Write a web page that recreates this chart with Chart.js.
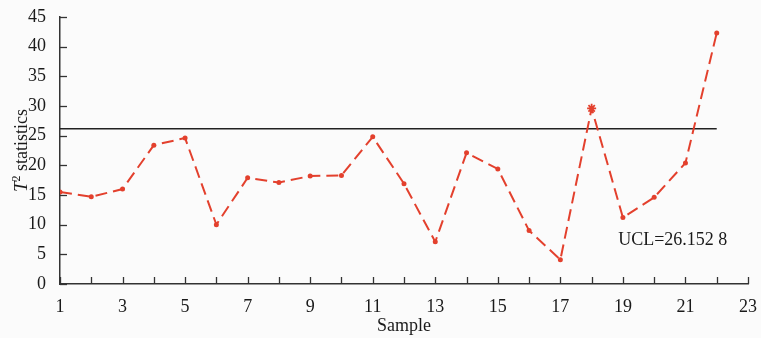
<!DOCTYPE html>
<html>
<head>
<meta charset="utf-8">
<script src="https://cdn.jsdelivr.net/npm/chart.js@4"></script>
<style>
  html, body { margin: 0; padding: 0; background: #fbfbfb; }
  #wrap { width: 761px; height: 338px; }
</style>
</head>
<body>
<div id="wrap"><canvas id="t2-chart"></canvas></div>
<script>
// ====
// Data
// ====
const samples = [1, 2, 3, 4, 5, 6, 7, 8, 9, 10, 11, 12, 13, 14, 15, 16, 17, 18, 19, 20, 21, 22];
const t2Values = [15.5, 14.7, 16.0, 23.4, 24.6, 10.0, 17.9, 17.1, 18.2, 18.3, 24.8,
                  16.9, 7.1, 22.1, 19.4, 9.0, 4.1, 29.6, 11.2, 14.6, 20.4, 42.3];
const uclValue = 26.1528;
const uclLabel = 'UCL=26.152 8';
const yTicks = [0, 5, 10, 15, 20, 25, 30, 35, 40, 45];

const serif = '"Liberation Serif", "DejaVu Serif", serif';
const textColor = '#1a1a1a';
const lineRed = '#e3402d';

//  Inward tick marks, axis title and UCL note
//  ------------------------------------------
const decorPlugin = {
  id: 'decor',
  beforeDraw(chart) {
    const ctx = chart.ctx;
    ctx.save();
    ctx.fillStyle = '#fbfbfb';
    ctx.fillRect(0, 0, chart.width, chart.height);
    ctx.restore();
  },
  afterDraw(chart) {
    const ctx = chart.ctx;
    const x = chart.scales.x;
    const y = chart.scales.y;
    ctx.save();
    ctx.strokeStyle = '#333';
    ctx.lineWidth = 1.3;

    // x ticks point up into the plot
    x.ticks.forEach((t) => {
      const px = Math.round(x.getPixelForValue(t.value)) + 0.5;
      ctx.beginPath();
      ctx.moveTo(px, y.bottom);
      ctx.lineTo(px, y.bottom - 7);
      ctx.stroke();
    });
    // y ticks point right into the plot
    y.ticks.forEach((t) => {
      const py = Math.round(y.getPixelForValue(t.value)) + 0.5;
      ctx.beginPath();
      ctx.moveTo(x.left, py);
      ctx.lineTo(x.left + 7, py);
      ctx.stroke();
    });

    // y axis title: italic T, superscript 2
    ctx.fillStyle = textColor;
    ctx.translate(22, (y.top + y.bottom) / 2);
    ctx.rotate(-Math.PI / 2);
    ctx.textBaseline = 'middle';
    const part1 = 'italic 19px ' + serif;
    const part2 = '12px ' + serif;
    const part3 = '18px ' + serif;
    ctx.font = part1;
    const w1 = ctx.measureText('T').width;
    ctx.font = part2;
    const w2 = ctx.measureText('2').width;
    ctx.font = part3;
    const w3 = ctx.measureText(' statistics').width;
    let sx = -(w1 + w2 + w3) / 2;
    ctx.font = part1;
    ctx.fillText('T', sx, 0);
    sx += w1;
    ctx.font = part2;
    ctx.fillText('2', sx, -5);
    sx += w2;
    ctx.font = part3;
    ctx.fillText(' statistics', sx, 0);
    ctx.restore();

    // UCL note
    ctx.save();
    ctx.fillStyle = textColor;
    ctx.font = '18px ' + serif;
    ctx.textBaseline = 'middle';
    ctx.fillText(uclLabel, x.getPixelForValue(18.85), y.getPixelForValue(7.4));
    ctx.restore();
  },
};

const t2Data = {
  datasets: [
    {
      label: 'T2',
      data: samples.map((s, i) => ({x: s, y: t2Values[i]})),
      borderColor: lineRed,
      backgroundColor: lineRed,
      borderWidth: 2,
      borderDash: [12, 6],
      pointRadius: samples.map((s) => (s === 18 ? 4.5 : 2.5)),
      pointStyle: samples.map((s) => (s === 18 ? 'star' : 'circle')),
      pointBorderWidth: samples.map((s) => (s === 18 ? 1.8 : 0)),
      tension: 0,
    },
    {
      label: 'UCL',
      data: [{x: samples[0], y: uclValue}, {x: samples[samples.length - 1], y: uclValue}],
      borderColor: '#222',
      borderWidth: 1.5,
      pointRadius: 0,
    },
  ],
};

const t2Options = {
  responsive: true,
  maintainAspectRatio: false,
  animation: false,
  layout: {
    padding: {top: 17, right: 9, left: 0, bottom: 0},
  },
  scales: {
    x: {
      type: 'linear',
      min: 1,
      max: 23,
      afterFit: (scale) => { scale.height = 54; },
      grid: {display: false},
      border: {display: true, color: '#333', width: 1.5},
      ticks: {
        stepSize: 1,
        autoSkip: false,
        maxRotation: 0,
        padding: 4,
        color: textColor,
        font: {family: serif, size: 18},
        callback: (v) => (v % 2 === 1 ? String(v) : ''),
      },
      title: {
        display: true,
        text: 'Sample',
        color: textColor,
        font: {family: serif, size: 18},
        padding: {top: 0, bottom: 1},
      },
    },
    y: {
      min: 0,
      max: 45,
      afterFit: (scale) => { scale.width = 60; },
      afterBuildTicks: (scale) => { scale.ticks = yTicks.map((v) => ({value: v})); },
      grid: {display: false},
      border: {display: true, color: '#333', width: 1.5},
      ticks: {
        padding: 6,
        color: textColor,
        font: {family: serif, size: 18},
      },
    },
  },
  plugins: {
    legend: {display: false},
    tooltip: {enabled: false},
  },
};

let t2Chart = new Chart(document.getElementById('t2-chart'), {
  type: 'line',
  data: t2Data,
  options: t2Options,
  plugins: [decorPlugin],
});
</script>
</body>
</html>
